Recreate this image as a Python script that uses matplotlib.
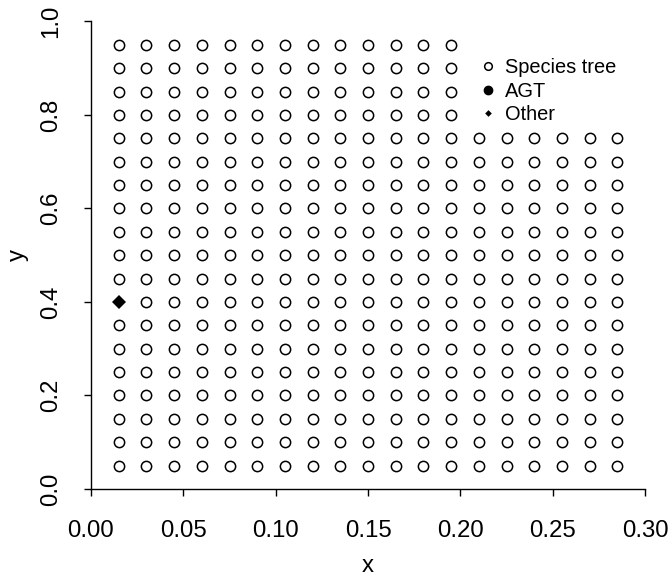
import matplotlib
matplotlib.use("Agg")
import matplotlib.pyplot as plt
from matplotlib.lines import Line2D

plt.rcParams['font.family'] = ['Liberation Sans', 'DejaVu Sans']

# Grid columns (x) and rows (y)
x_cols = [0.015, 0.030, 0.045, 0.060, 0.075, 0.090, 0.105, 0.120, 0.135, 0.150,
          0.165, 0.180, 0.195, 0.210, 0.225, 0.240, 0.255, 0.270, 0.285]
col_top = [0.95, 0.95, 0.95, 0.95, 0.95, 0.95, 0.95, 0.95, 0.95, 0.95,
           0.95, 0.95, 0.95, 0.75, 0.75, 0.75, 0.75, 0.75, 0.75]
y_rows = [0.05, 0.10, 0.15, 0.20, 0.25, 0.30, 0.35, 0.40, 0.45, 0.50,
          0.55, 0.60, 0.65, 0.70, 0.75, 0.80, 0.85, 0.90, 0.95]

# Non-species-tree points
agt_x, agt_y = [], []
other_x, other_y = [0.015], [0.40]

x_ticks = [0.00, 0.05, 0.10, 0.15, 0.20, 0.25, 0.30]
x_labels = ["0.00", "0.05", "0.10", "0.15", "0.20", "0.25", "0.30"]
y_ticks = [0.0, 0.2, 0.4, 0.6, 0.8, 1.0]
y_labels = ["0.0", "0.2", "0.4", "0.6", "0.8", "1.0"]

# Species tree = grid points that are not classified otherwise
other_set = set(zip(other_x, other_y))
agt_set = set(zip(agt_x, agt_y))
sp_x, sp_y = [], []
for xv, top in zip(x_cols, col_top):
    for yv in y_rows:
        if yv > top + 1e-9:
            continue
        if (xv, yv) in other_set or (xv, yv) in agt_set:
            continue
        sp_x.append(xv)
        sp_y.append(yv)

W, H = 670, 579
fig = plt.figure(figsize=(W / 100, H / 100), dpi=100)
ax = fig.add_axes([91 / W, 1 - 489 / H, (645 - 91) / W, (489 - 21.4) / H])

ax.plot(sp_x, sp_y, ls='none', marker='o', ms=7.4, mfc='white', mec='black', mew=1.1)
ax.plot(agt_x, agt_y, ls='none', marker='o', ms=7.4, mfc='black', mec='black')
ax.plot(other_x, other_y, ls='none', marker='D', ms=7.6, mfc='black', mec='black', mew=0)

ax.set_xlim(0, 0.30)
ax.set_ylim(0, 1.0)
ax.set_xticks(x_ticks)
ax.set_xticklabels(x_labels)
ax.set_yticks(y_ticks)
ax.set_yticklabels(y_labels, rotation=90, va='center')

for side in ['top', 'right']:
    ax.spines[side].set_visible(False)
for side in ['left', 'bottom']:
    ax.spines[side].set_linewidth(1.0)
ax.tick_params(axis='both', length=5, width=1.0, labelsize=17.3, color='black')
ax.tick_params(axis='x', pad=17)
ax.tick_params(axis='y', pad=16)

fig.text(368 / W, 1 - 566 / H, "x", ha='center', va='center', fontsize=17.3)
fig.text(18 / W, 1 - 255 / H, "y", ha='center', va='center', fontsize=17.3, rotation=90)

# Legend with smaller symbols than the plot
handles = [
    Line2D([], [], ls='none', marker='o', ms=5.5, mfc='white', mec='black', mew=1.1),
    Line2D([], [], ls='none', marker='o', ms=6, mfc='black', mec='black'),
    Line2D([], [], ls='none', marker='D', ms=3.4, mfc='black', mec='black', mew=0),
]
ax.legend(handles, ["Species tree", "AGT", "Other"], loc='upper left',
          bbox_to_anchor=(480 / W, 1 - 58 / H), bbox_transform=fig.transFigure,
          frameon=False, fontsize=14.4, borderpad=0, borderaxespad=0,
          handlelength=0.8, handletextpad=0.45, labelspacing=0.23)

fig.savefig("out.png", dpi=100)
